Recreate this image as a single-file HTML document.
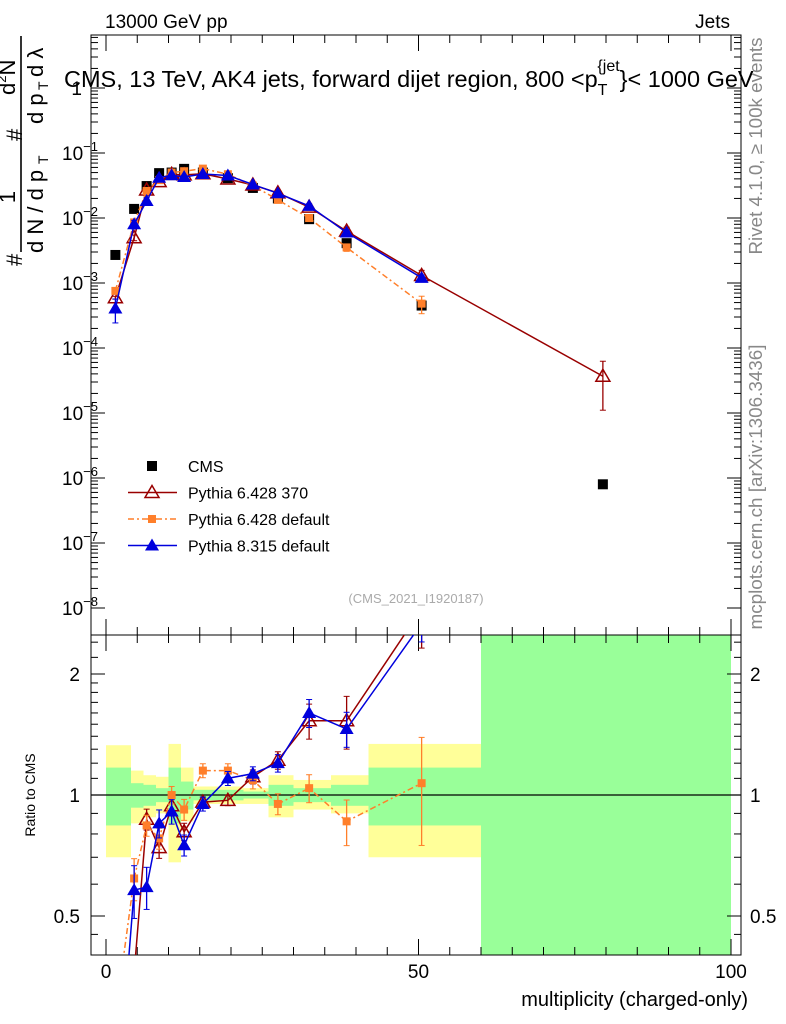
<!DOCTYPE html>
<html><head><meta charset="utf-8"><style>
html,body{margin:0;padding:0;background:#fff;overflow:hidden;width:786px;height:1024px}
svg{display:block;font-family:"Liberation Sans",sans-serif}
</style></head><body>
<svg id="chart" width="786" height="1024" viewBox="0 0 786 1024">
<defs>
<clipPath id="cm"><rect x="91" y="35" width="650" height="600"/></clipPath>
<clipPath id="cr"><rect x="91" y="635" width="650" height="320"/></clipPath>
</defs>
<g id="bands" clip-path="url(#cr)"></g>
<g id="axes"></g>
<g id="mainG" clip-path="url(#cm)"></g>
<g id="ratioG" clip-path="url(#cr)"></g>
<text x="105" y="28" font-size="19">13000 GeV pp</text>
<text x="730" y="28" font-size="19" text-anchor="end">Jets</text>
<text x="64" y="87" font-size="23.5">CMS, 13 TeV, AK4 jets, forward dijet region, 800 &lt;p<tspan font-size="16" dy="8">T</tspan><tspan font-size="16" dy="-24" dx="-10">{jet</tspan><tspan dy="16">}&lt; 1000 GeV</tspan></text>
<text x="416" y="603" font-size="13" fill="#aaa" text-anchor="middle">(CMS_2021_I1920187)</text>
<text transform="translate(762,146) rotate(-90)" font-size="18" fill="#888" text-anchor="middle" textLength="217" lengthAdjust="spacingAndGlyphs">Rivet 4.1.0, ≥ 100k events</text>
<text transform="translate(762,487) rotate(-90)" font-size="18" fill="#888" text-anchor="middle" textLength="285" lengthAdjust="spacingAndGlyphs">mcplots.cern.ch [arXiv:1306.3436]</text>
<g transform="translate(0,280) rotate(-90)" font-size="22">
<text x="14" y="22">#</text>
<text x="83" y="15" text-anchor="middle">1</text>
<line x1="28" y1="21" x2="244" y2="21" stroke="#000" stroke-width="1.6"/>
<text x="27" y="43">d N / d p</text><text x="116" y="48" font-size="14">T</text>
<text x="139" y="22">#</text>
<text x="185" y="15">d<tspan font-size="13" dy="-9">2</tspan><tspan dy="9">N</tspan></text>
<text x="156" y="43">d p</text><text x="190" y="48" font-size="14">T</text><text x="203" y="43">d λ</text>
</g>
<text x="30" y="800" font-size="14" transform="rotate(-90 30 795)" text-anchor="middle">Ratio to CMS</text>
<text x="748" y="1006" font-size="20" text-anchor="end">multiplicity (charged-only)</text>
<g id="legend"></g>
</svg>
<script>
const xCenters=[1.5,4.5,6.5,8.5,10.5,12.5,15.5,19.5,23.5,27.5,32.5,38.5,50.5,79.5];
const binEdges=[0,4,6,8,10,12,14,18,22,26,30,36,42,60,100];
const cmsVals=[2.7e-3,0.0138,0.031,0.049,0.05,0.057,0.05,0.041,0.029,0.020,0.0096,0.0041,4.5e-4,8e-7];
const ratioRed=[0.22,0.36,0.87,0.74,0.94,0.81,0.96,0.97,1.11,1.22,1.53,1.53,2.9,46];
const ratioOrange=[0.28,0.62,0.84,0.78,1.0,0.92,1.15,1.15,1.09,0.95,1.04,0.86,1.07];
const ratioBlue=[0.15,0.58,0.59,0.85,0.91,0.75,0.95,1.1,1.13,1.2,1.6,1.46,2.67];
const errRed=[0.05,0.1,0.06,0.06,0.05,0.05,0.03,0.03,0.04,0.05,0.1,0.15,0.2,0.7];
const errOrange=[0.08,0.12,0.06,0.06,0.05,0.06,0.04,0.04,0.05,0.06,0.08,0.13,0.3];
const errBlue=[0.4,0.15,0.12,0.08,0.07,0.06,0.04,0.04,0.04,0.05,0.08,0.1,0.1];
const yellowHi=[1.33,1.15,1.12,1.11,1.34,1.17,1.05,1.05,1.04,1.12,1.09,1.12,1.34,3];
const yellowLo=[0.7,0.85,0.88,0.9,0.68,0.86,0.95,0.95,0.95,0.88,0.92,0.9,0.7,0.3];
const greenHi=[1.17,1.07,1.06,1.04,1.17,1.08,1.03,1.03,1.02,1.06,1.04,1.06,1.17,3];
const greenLo=[0.84,0.93,0.94,0.96,0.85,0.92,0.97,0.97,0.98,0.94,0.96,0.94,0.84,0.3];
const mainTicks=[-8,-7,-6,-5,-4,-3,-2,-1,0];
const ratioTicks=[0.5,1,2];
const xTicks=[0,50,100];

const NS="http://www.w3.org/2000/svg";
const X=v=>106+6.25*v, YM=v=>88-65*Math.log10(v), YR=r=>795-121*Math.log2(r);
function mk(p,tag,a){const e=document.createElementNS(NS,tag);for(const k in a)e.setAttribute(k,a[k]);p.appendChild(e);return e;}
const axes=document.getElementById('axes'),bands=document.getElementById('bands'),mainG=document.getElementById('mainG'),ratioG=document.getElementById('ratioG'),leg=document.getElementById('legend');

for(let i=0;i<binEdges.length-1;i++){
 const x1=X(binEdges[i]),x2=X(binEdges[i+1]);
 let r=mk(bands,'rect',{x:x1,y:YR(yellowHi[i]),width:x2-x1,height:YR(yellowLo[i])-YR(yellowHi[i]),fill:'#ffff99'});
 
 
 r=mk(bands,'rect',{x:x1,y:YR(greenHi[i]),width:x2-x1,height:YR(greenLo[i])-YR(greenHi[i]),fill:'#99ff99'});
 
 
}
mk(axes,'rect',{x:91,y:35,width:650,height:600,fill:'none',stroke:'#000','stroke-width':1});
mk(axes,'rect',{x:91,y:635,width:650,height:320,fill:'none',stroke:'#000','stroke-width':1});
mk(axes,'line',{x1:91,x2:741,y1:YR(1),y2:YR(1),stroke:'#000','stroke-width':1.3});
mainTicks.forEach(d=>{
 const y=YM(Math.pow(10,d));
 mk(axes,'line',{x1:91,x2:105,y1:y,y2:y,stroke:'#000'});mk(axes,'line',{x1:727,x2:741,y1:y,y2:y,stroke:'#000'});
 for(let m=2;m<10;m++){const ym=YM(m*Math.pow(10,d));if(ym>35&&ym<635){mk(axes,'line',{x1:91,x2:98,y1:ym,y2:ym,stroke:'#000'});mk(axes,'line',{x1:734,x2:741,y1:ym,y2:ym,stroke:'#000'});}}
 const t=mk(axes,'text',{x:d==0?82:62,y:y+7,'font-size':19,'text-anchor':d==0?'end':'start'});
 
 
 if(d==0)t.textContent='1';else{t.textContent='10';const s=mk(t,'tspan',{dy:-9,'font-size':13});s.textContent=String(d).replace('-','−');}
});
ratioTicks.forEach(r=>{
 const y=YR(r);
 mk(axes,'line',{x1:91,x2:105,y1:y,y2:y,stroke:'#000'});mk(axes,'line',{x1:727,x2:741,y1:y,y2:y,stroke:'#000'});
 const t=mk(axes,'text',{x:80,y:y+7,'font-size':19,'text-anchor':'end'});t.textContent=r;
 
 
 const t2=mk(axes,'text',{x:750,y:y+7,'font-size':19});t2.textContent=r;
});
[0.6,0.7,0.8,0.9,1.1,1.2,1.3,1.4,1.5,1.6,1.7,1.8,1.9,0.45,2.2,2.4].forEach(r=>{const y=YR(r);if(y>635&&y<955){mk(axes,'line',{x1:91,x2:98,y1:y,y2:y,stroke:'#000'});mk(axes,'line',{x1:734,x2:741,y1:y,y2:y,stroke:'#000'});}});
for(let v=0;v<=100;v+=5){const x=X(v),L=v%50==0?16:8;
 mk(axes,'line',{x1:x,x2:x,y1:955,y2:955-L,stroke:'#000'});mk(axes,'line',{x1:x,x2:x,y1:635,y2:635-L,stroke:'#000'});
 mk(axes,'line',{x1:x,x2:x,y1:635,y2:635+L,stroke:'#000'});mk(axes,'line',{x1:x,x2:x,y1:35,y2:35+L,stroke:'#000'});}
xTicks.forEach(v=>{const t=mk(axes,'text',{x:X(v),y:978,'font-size':19,'text-anchor':'middle'});t.textContent=v;
 
 });

function marker(g,type,x,y,col){
 if(type=='sq')return mk(g,'rect',{x:x-5,y:y-5,width:10,height:10,fill:col});
 if(type=='osq')return mk(g,'rect',{x:x-4,y:y-4,width:8,height:8,fill:col});
 if(type=='otri')return mk(g,'path',{d:`M${x},${y-7}L${x+7},${y+5}L${x-7},${y+5}Z`,fill:'#fff','fill-opacity':0.01,stroke:col,'stroke-width':1.5});
 return mk(g,'path',{d:`M${x},${y-7}L${x+7},${y+5}L${x-7},${y+5}Z`,fill:col});
}
const series=[
 {r:ratioRed,e:errRed,c:'#990000',m:'otri',dash:null,n:'pythia6-370'},
 {r:ratioOrange,e:errOrange,c:'#ff7f2a',m:'osq',dash:'6,3,2,3',n:'pythia6-default'},
 {r:ratioBlue,e:errBlue,c:'#0000dd',m:'tri',dash:null,n:'pythia8-default'}];
cmsVals.forEach((v,i)=>{const m=marker(mainG,'sq',X(xCenters[i]),YM(v),'#000');
 
 });
series.forEach(s=>{
 const pm=s.r.map((r,i)=>[X(xCenters[i]),YM(r*cmsVals[i])]);
 const pr=s.r.map((r,i)=>[X(xCenters[i]),YR(r)]);
 [[mainG,pm,(r,i,k)=>YM(r*cmsVals[i]*(1+k*s.e[i]))],[ratioG,pr,(r,i,k)=>YR(r*(1+k*s.e[i]))]].forEach(([g,pts,fy])=>{
  const l=mk(g,'polyline',{points:pts.map(p=>p.join(',')).join(' '),fill:'none',stroke:s.c,'stroke-width':1.5});
  if(s.dash)l.setAttribute('stroke-dasharray',s.dash);
  
  
  s.r.forEach((r,i)=>{const x=pts[i][0],y1=fy(r,i,1),y2=fy(r,i,-1);
   mk(g,'line',{x1:x,x2:x,y1:y1,y2:y2,stroke:s.c,'stroke-width':1.3});
   mk(g,'line',{x1:x-3,x2:x+3,y1:y1,y2:y1,stroke:s.c});mk(g,'line',{x1:x-3,x2:x+3,y1:y2,y2:y2,stroke:s.c});
   const m=marker(g,s.m,x,pts[i][1],s.c);
   
   });
 });
});
const legItems=[['CMS','sq','#000',null],['Pythia 6.428 370','otri','#990000',null],['Pythia 6.428 default','osq','#ff7f2a','6,3,2,3'],['Pythia 8.315 default','tri','#0000dd',null]];
legItems.forEach((it,i)=>{const y=466+26.5*i;
 if(i>0){const l=mk(leg,'line',{x1:128,x2:177,y1:y,y2:y,stroke:it[2],'stroke-width':1.5});if(it[3])l.setAttribute('stroke-dasharray',it[3]);}
 marker(leg,it[1],152,y,it[2]);
 const t=mk(leg,'text',{x:188,y:y+6,'font-size':16});t.textContent=it[0];
 
 });
</script>
</body></html>
